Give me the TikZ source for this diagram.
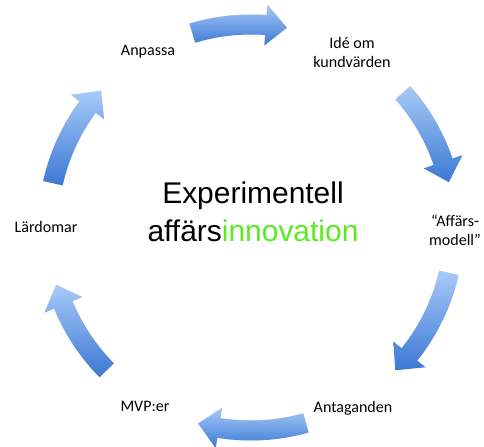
\documentclass[tikz,border=0pt]{standalone}
\usepackage{fontspec}
\setmainfont{Carlito}
\newfontfamily\headfont{Liberation Sans}
\usetikzlibrary{calc}
\definecolor{arrowlight}{RGB}{168,202,248}
\definecolor{arrowdark}{RGB}{60,120,212}
\definecolor{innogreen}{RGB}{88,236,28}
\def\arrowpath#1#2#3{($(mid)+(#1:213)$) arc[start angle=#1, end angle=#2, radius=213] -- ($(mid)+(#2:223.5)$) -- ($(mid)+(#3:203)$) -- ($(mid)+(#2:182.5)$) -- ($(mid)+(#2:193)$) arc[start angle=#2, end angle=#1, radius=193] -- cycle}
\def\cyclearrow(#1:#2){%
  \pgfmathsetmacro{\headbase}{#2+6}%
  \begin{scope}[shift={(1.2,-2)}]
    \fill[black, opacity=0.12] \arrowpath{#1}{\headbase}{#2};
  \end{scope}
  \shade[top color=arrowlight, bottom color=arrowdark] \arrowpath{#1}{\headbase}{#2};
}
\tikzset{
  steplabel/.style={font=\fontsize{11.4}{13.5}\selectfont, align=center, inner sep=0pt},
  titlelabel/.style={font=\headfont\fontsize{21.3}{27}\selectfont, align=center, inner sep=0pt}
}

\begin{document}
\begin{tikzpicture}[x=0.025cm, y=0.025cm]
		%%%%% START %%%%%
		\useasboundingbox (0, 0) rectangle (484, 446);
		\coordinate (mid) at (251, 218.5);
		
		% arrows round the cycle
		\foreach \tail/\tip in {106.8/79.8, 41.6/12.9, -12.9/-44.7, -74.3/-105.1, -135.3/-163.6, 167.4/137.6}
			{\cyclearrow(\tail:\tip)}
		
		\node[steplabel] (anpassa) at (148, 394) {Anpassa};
		\node[steplabel] (ide) at (352, 393.5) {Idé om\\kundvärden};
		\node[steplabel] (modell) at (455, 215.5) {“Affärs-\\modell”};
		\node[steplabel] (antaganden) at (353, 38) {Antaganden};
		\node[steplabel] (mvp) at (145, 40) {MVP:er};
		\node[steplabel] (lardomar) at (46, 219) {Lärdomar};
		
		\node[titlelabel] (title) at (253, 234) {Experimentell\\affärs\textcolor{innogreen}{innovation}};
		%%%%% END %%%%%
	\end{tikzpicture}
\end{document}
